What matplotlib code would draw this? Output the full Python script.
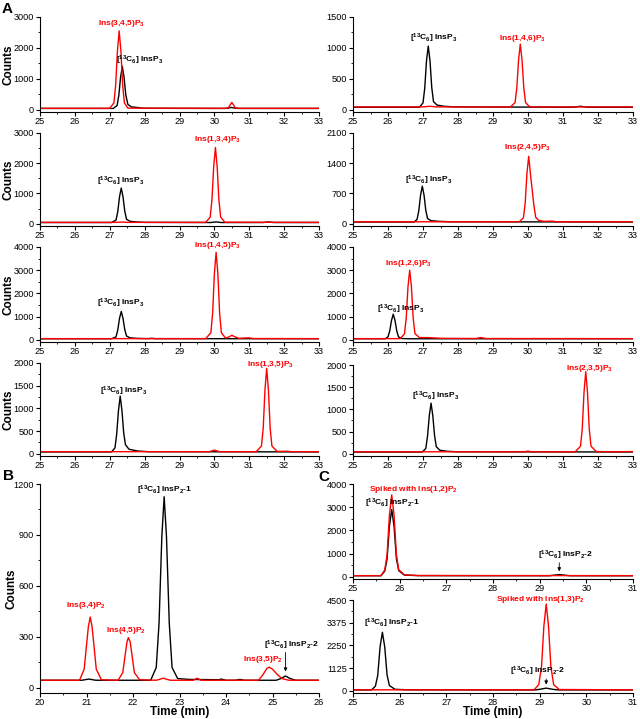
import matplotlib.pyplot as plt
from matplotlib.ticker import MultipleLocator

plt.rcParams['font.family'] = ['Liberation Sans', 'DejaVu Sans']
plt.rcParams['mathtext.fontset'] = 'custom'
plt.rcParams['mathtext.rm'] = 'Liberation Sans:bold'
plt.rcParams['mathtext.bf'] = 'Liberation Sans:bold'
plt.rcParams['mathtext.default'] = 'bf'

# ---- data (time in min, counts) ----
# A1: Ins(3,4,5)P3
a1_tk = [25, 27.1, 27.21, 27.26, 27.31, 27.36, 27.41, 27.46, 27.52, 27.62, 27.8, 27.95, 30.3, 30.42, 30.48, 30.56, 30.7, 33]
a1_yk = [40, 40, 135, 460, 1050, 1400, 1050, 480, 170, 90, 70, 45, 40, 55, 75, 55, 40, 40]
a1_tr = [25, 27.0, 27.12, 27.17, 27.22, 27.27, 27.32, 27.37, 27.42, 27.52, 30.3, 30.4, 30.45, 30.5, 30.55, 30.6, 30.7, 33]
a1_yr = [45, 45, 220, 800, 1900, 2550, 1900, 800, 220, 50, 45, 60, 150, 235, 150, 60, 45, 45]
# A2: Ins(1,4,6)P3
a2_tk = [25, 26.9, 27.0, 27.05, 27.1, 27.15, 27.2, 27.25, 27.3, 27.4, 27.6, 27.9, 31.3, 31.5, 31.7, 33]
a2_yk = [40, 40, 110, 350, 790, 1030, 790, 360, 130, 75, 55, 45, 40, 55, 40, 40]
a2_tr = [25, 27.0, 27.2, 27.4, 29.5, 29.63, 29.68, 29.73, 29.78, 29.83, 29.88, 29.93, 30.05, 33]
a2_yr = [45, 45, 55, 45, 45, 115, 350, 800, 1060, 800, 350, 115, 45, 45]
# A3: Ins(1,3,4)P3
a3_tk = [25, 27.05, 27.18, 27.23, 27.28, 27.33, 27.38, 27.43, 27.48, 27.58, 27.75, 28.0, 29.9, 30.05, 30.2, 31.4, 31.55, 31.7, 33]
a3_yk = [40, 40, 120, 400, 890, 1180, 890, 420, 150, 80, 60, 45, 40, 60, 40, 40, 60, 40, 40]
a3_tr = [25, 27.2, 27.35, 27.5, 29.75, 29.88, 29.93, 29.98, 30.03, 30.08, 30.13, 30.18, 30.3, 33]
a3_yr = [45, 45, 55, 45, 45, 220, 790, 1880, 2520, 1880, 790, 220, 50, 45]
# A4: Ins(2,4,5)P3
a4_tk = [25, 26.75, 26.83, 26.88, 26.93, 26.98, 27.03, 27.08, 27.13, 27.23, 27.45, 27.8, 33]
a4_yk = [40, 40, 100, 300, 660, 870, 660, 310, 120, 70, 55, 45, 40]
a4_tr = [25, 29.75, 29.87, 29.92, 29.97, 30.02, 30.07, 30.12, 30.17, 30.22, 30.3, 30.45, 30.7, 30.8, 33]
a4_yr = [45, 45, 140, 480, 1170, 1560, 1150, 780, 420, 150, 80, 55, 60, 45, 45]
# A5: Ins(1,4,5)P3
a5_tk = [25, 27.05, 27.18, 27.23, 27.28, 27.33, 27.38, 27.43, 27.48, 27.58, 27.8, 28.1, 28.2, 28.3, 33]
a5_yk = [40, 40, 120, 420, 920, 1220, 920, 440, 160, 80, 55, 45, 60, 45, 40]
a5_tr = [25, 29.75, 29.9, 29.95, 30.0, 30.05, 30.1, 30.15, 30.2, 30.32, 30.42, 30.5, 30.58, 30.7, 30.9, 31.0, 31.1, 33]
a5_yr = [45, 45, 300, 1150, 2850, 3770, 2850, 1150, 300, 70, 120, 190, 130, 60, 75, 80, 50, 45]
# A6: Ins(1,2,6)P3
a6_tk = [25, 25.92, 26.0, 26.05, 26.1, 26.15, 26.2, 26.25, 26.3, 26.4, 26.6, 33]
a6_yk = [40, 40, 120, 380, 830, 1100, 830, 380, 120, 50, 40, 40]
a6_tr = [25, 26.35, 26.47, 26.52, 26.57, 26.62, 26.67, 26.72, 26.77, 26.9, 27.15, 27.5, 28.5, 28.65, 28.8, 33]
a6_yr = [45, 45, 250, 920, 2270, 3000, 2270, 920, 260, 90, 90, 60, 50, 90, 50, 45]
# A7: Ins(1,3,5)P3
a7_tk = [25, 27.05, 27.15, 27.2, 27.25, 27.3, 27.35, 27.4, 27.45, 27.55, 27.8, 28.1, 33]
a7_yk = [40, 40, 130, 440, 950, 1270, 950, 460, 200, 100, 60, 45, 40]
a7_tr = [25, 29.85, 30.0, 30.15, 31.2, 31.35, 31.4, 31.45, 31.5, 31.55, 31.6, 31.65, 31.8, 32.1, 32.2, 33]
a7_yr = [45, 45, 80, 45, 45, 170, 560, 1400, 1880, 1400, 560, 170, 50, 55, 45, 45]
# A8: Ins(2,3,5)P3
a8_tk = [25, 26.98, 27.08, 27.13, 27.18, 27.23, 27.28, 27.33, 27.38, 27.48, 27.7, 28.0, 33]
a8_yk = [40, 40, 120, 400, 860, 1140, 860, 410, 160, 80, 55, 45, 40]
a8_tr = [25, 29.9, 30.0, 30.1, 31.35, 31.5, 31.55, 31.6, 31.65, 31.7, 31.75, 31.8, 31.95, 32.5, 33]
a8_yr = [45, 45, 60, 45, 45, 170, 560, 1380, 1850, 1380, 560, 170, 50, 45, 50]

# B: InsP2 isomers
b_tk = [20, 20.9, 21.05, 21.2, 22.38, 22.5, 22.56, 22.62, 22.67, 22.72, 22.78, 22.84, 22.96, 23.2,
        23.85, 23.9, 24.0, 24.2, 24.3, 24.4, 25.08, 25.18, 25.28, 25.38, 25.5, 26]
b_yk = [45, 45, 52, 45, 45, 120, 380, 890, 1125, 890, 380, 120, 55, 50,
        48, 52, 45, 45, 50, 45, 45, 55, 70, 55, 45, 45]
b_tr = [20, 20.85, 20.95, 21.0, 21.04, 21.08, 21.12, 21.16, 21.21, 21.32, 21.68, 21.78, 21.83, 21.87,
        21.9, 21.94, 21.98, 22.03, 22.14, 22.5, 22.65, 22.8, 23.3, 23.38, 23.46, 24.7, 24.8, 24.88,
        24.93, 25.0, 25.1, 25.2, 25.35, 26]
b_yr = [45, 45, 110, 250, 360, 417, 360, 250, 110, 48, 45, 90, 190, 270,
        296, 270, 190, 90, 48, 45, 57, 45, 45, 57, 45, 45, 80, 115,
        122, 110, 80, 55, 45, 45]

# C: spiked samples
c1_tk = [25, 25.6, 25.68, 25.73, 25.78, 25.83, 25.88, 25.93, 25.98, 26.1, 26.4, 29.2, 29.42, 29.65, 31]
c1_yk = [40, 40, 240, 760, 2170, 2900, 2170, 780, 260, 70, 45, 40, 90, 40, 40]
c1_tr = [25, 25.6, 25.68, 25.73, 25.78, 25.83, 25.88, 25.93, 25.98, 26.1, 26.4, 31]
c1_yr = [45, 45, 290, 930, 2650, 3530, 2650, 950, 300, 80, 50, 45]
c2_tk = [25, 25.4, 25.48, 25.53, 25.58, 25.63, 25.68, 25.73, 25.78, 25.9, 26.2, 28.9, 29.0, 29.14, 29.28, 29.4, 31]
c2_yk = [40, 40, 230, 760, 2170, 2900, 2170, 780, 260, 70, 45, 40, 70, 130, 70, 40, 40]
c2_tr = [25, 28.88, 28.98, 29.04, 29.09, 29.14, 29.19, 29.24, 29.3, 29.42, 31]
c2_yr = [45, 45, 300, 1200, 3200, 4300, 3200, 1200, 300, 60, 45]

IP3 = r'[$^{13}$C$_6$] InsP$_3$'
IP2_1 = r'[$^{13}$C$_6$] InsP$_2$-1'
IP2_2 = r'[$^{13}$C$_6$] InsP$_2$-2'

W, H = 640, 719
fig = plt.figure(figsize=(6.4, 7.19), dpi=100)


def rect(l, t, r, b):
    return [l / W, 1 - b / H, (r - l) / W, (b - t) / H]


def chrom(box, tk, yk, tr, yr, xlim, ymax, ystep, labels, counts=None, fs=6.6):
    ax = fig.add_axes(rect(*box))
    ax.plot(tk, yk, color='black', lw=1.0)
    ax.plot(tr, yr, color='red', lw=1.0)
    ax.set_xlim(*xlim)
    ax.set_ylim(-0.025 * ymax, ymax)
    ax.xaxis.set_major_locator(MultipleLocator(1))
    ax.xaxis.set_minor_locator(MultipleLocator(0.5))
    ax.yaxis.set_major_locator(MultipleLocator(ystep))
    ax.yaxis.set_minor_locator(MultipleLocator(ystep / 2))
    for s in ['top', 'right']:
        ax.spines[s].set_visible(False)
    for s in ['left', 'bottom']:
        ax.spines[s].set_linewidth(0.8)
    ax.tick_params(which='major', direction='out', length=3, width=0.8, labelsize=fs, pad=1.5)
    ax.tick_params(axis='x', which='major', pad=0.5)
    ax.tick_params(which='minor', direction='out', length=1.5, width=0.6)
    if counts is not None:
        ax.set_ylabel('Counts', fontsize=8.5, fontweight='bold')
        ax.yaxis.set_label_coords((counts - 40) / (box[2] - box[0]), 0.5)
    for txt, x, y, c in labels:
        ax.text(x, y, txt, color=c, fontsize=6.0, fontweight='bold', ha='center', va='center', clip_on=False)
    return ax


def time_label(ax, box):
    ax.set_xlabel('Time (min)', fontsize=8.5, fontweight='bold')
    ax.xaxis.set_label_coords(0.5, (box[3] - 706) / (box[3] - box[1]))


L, R = (40, 319), (353, 633)
rows = [(17, 112), (133, 226), (247, 342), (363, 456)]

chrom((L[0], rows[0][0], L[1], rows[0][1]), a1_tk, a1_yk, a1_tr, a1_yr, (25, 33), 3000, 1000,
      [(r'Ins(3,4,5)P$_3$', 27.35, 2800, 'red'), (IP3, 27.85, 1600, 'black')], counts=15)
chrom((R[0], rows[0][0], R[1], rows[0][1]), a2_tk, a2_yk, a2_tr, a2_yr, (25, 33), 1500, 500,
      [(IP3, 27.3, 1160, 'black'), (r'Ins(1,4,6)P$_3$', 29.85, 1160, 'red')])
chrom((L[0], rows[1][0], L[1], rows[1][1]), a3_tk, a3_yk, a3_tr, a3_yr, (25, 33), 3000, 1000,
      [(IP3, 27.3, 1400, 'black'), (r'Ins(1,3,4)P$_3$', 30.1, 2800, 'red')], counts=15)
chrom((R[0], rows[1][0], R[1], rows[1][1]), a4_tk, a4_yk, a4_tr, a4_yr, (25, 33), 2100, 700,
      [(IP3, 27.15, 1000, 'black'), (r'Ins(2,4,5)P$_3$', 30.0, 1770, 'red')])
chrom((L[0], rows[2][0], L[1], rows[2][1]), a5_tk, a5_yk, a5_tr, a5_yr, (25, 33), 4000, 1000,
      [(IP3, 27.3, 1550, 'black'), (r'Ins(1,4,5)P$_3$', 30.1, 4050, 'red')], counts=15)
chrom((R[0], rows[2][0], R[1], rows[2][1]), a6_tk, a6_yk, a6_tr, a6_yr, (25, 33), 4000, 1000,
      [(IP3, 26.35, 1300, 'black'), (r'Ins(1,2,6)P$_3$', 26.6, 3270, 'red')])
chrom((L[0], rows[3][0], L[1], rows[3][1]), a7_tk, a7_yk, a7_tr, a7_yr, (25, 33), 2000, 500,
      [(IP3, 27.4, 1380, 'black'), (r'Ins(1,3,5)P$_3$', 31.6, 1960, 'red')], counts=15)
chrom((R[0], 365, R[1], rows[3][1]), a8_tk, a8_yk, a8_tr, a8_yr, (25, 33), 2000, 500,
      [(IP3, 27.35, 1300, 'black'), (r'Ins(2,3,5)P$_3$', 31.75, 1930, 'red')])

box_b = (40, 484, 319, 693)
axb = chrom(box_b, b_tk, b_yk, b_tr, b_yr, (20, 26), 1200, 300,
            [(r'Ins(3,4)P$_2$', 21.0, 483, 'red'), (r'Ins(4,5)P$_2$', 21.85, 338, 'red'),
             (IP2_1, 22.67, 1165, 'black'), (r'Ins(3,5)P$_2$', 24.8, 168, 'red'),
             (IP2_2, 25.4, 253, 'black')], counts=18)
time_label(axb, box_b)
axb.annotate('', xy=(25.28, 80), xytext=(25.28, 225),
             arrowprops=dict(arrowstyle='-|>', color='black', lw=0.6, mutation_scale=5))

axc1 = chrom((353, 484, 633, 579), c1_tk, c1_yk, c1_tr, c1_yr, (25, 31), 4000, 1000,
             [(r'Spiked with Ins(1,2)P$_2$', 26.29, 3780, 'red'), (IP2_1, 25.84, 3180, 'black'),
              (IP2_2, 29.55, 940, 'black')])
axc1.annotate('', xy=(29.42, 110), xytext=(29.42, 720),
              arrowprops=dict(arrowstyle='-|>', color='black', lw=0.6, mutation_scale=5))
box_c2 = (353, 600, 633, 693)
axc2 = chrom(box_c2, c2_tk, c2_yk, c2_tr, c2_yr, (25, 31), 4500, 1125,
             [(IP2_1, 25.82, 3320, 'black'), (r'Spiked with Ins(1,3)P$_2$', 29.02, 4530, 'red'),
              (IP2_2, 28.96, 965, 'black')])
axc2.annotate('', xy=(29.14, 170), xytext=(29.14, 720),
              arrowprops=dict(arrowstyle='-|>', color='black', lw=0.6, mutation_scale=5))
time_label(axc2, box_c2)

fig.text(2 / W, 1 - 9 / H, 'A', fontsize=11, fontweight='bold', va='center', ha='left')
fig.text(3 / W, 1 - 476 / H, 'B', fontsize=11, fontweight='bold', va='center', ha='left')
fig.text(318 / W, 1 - 477 / H, 'C', fontsize=11, fontweight='bold', va='center', ha='left')

fig.savefig('out.png', dpi=100)
